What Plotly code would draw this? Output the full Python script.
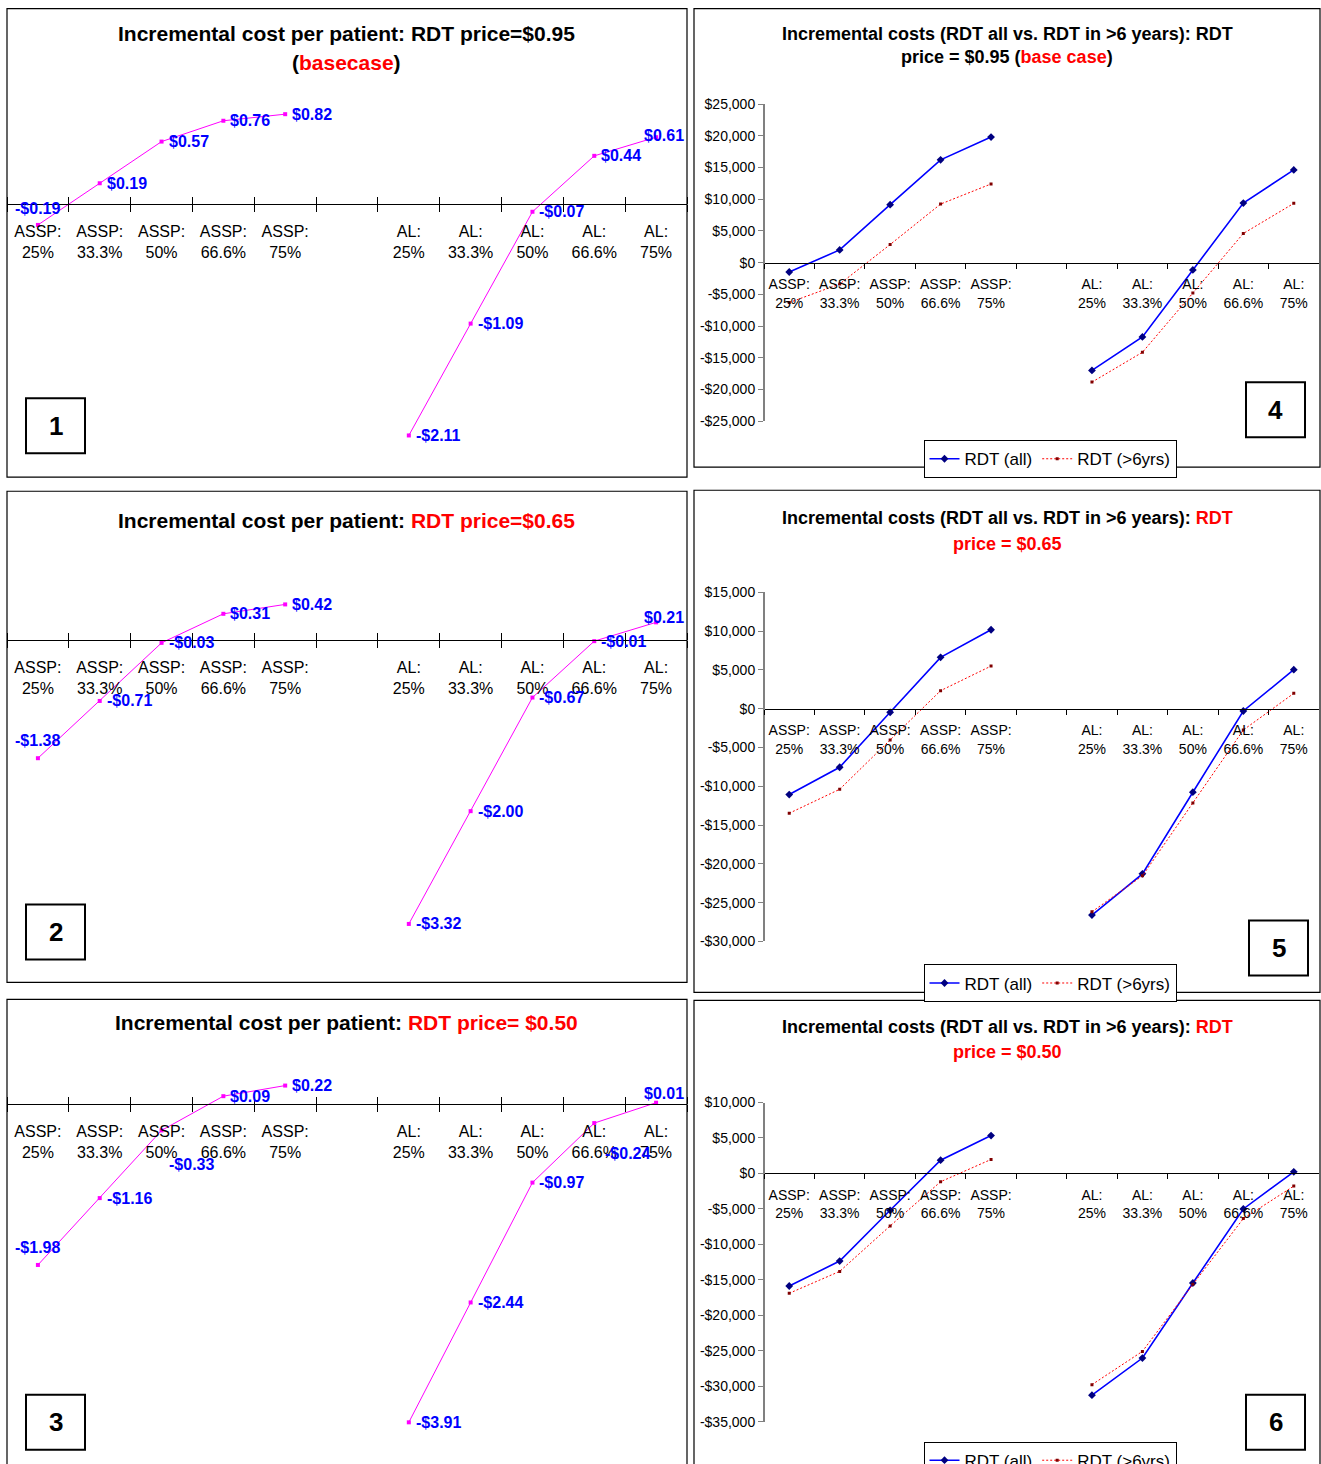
import plotly.graph_objects as go

W, H = 1321, 1480          # page is drawn slightly taller; mapping below keeps the picture at 1321x1464
Y_OFF, Y_SCALE = 8.0, 0.984

# ---------------- data ----------------
categories = ["ASSP:<br>25%", "ASSP:<br>33.3%", "ASSP:<br>50%", "ASSP:<br>66.6%", "ASSP:<br>75%", " ",
              "AL:<br>25%", "AL:<br>33.3%", "AL:<br>50%", "AL:<br>66.6%", "AL:<br>75%"]

# incremental cost per patient ($), RDT price 0.95 / 0.65 / 0.50
pp_assp_095 = [-0.19, 0.19, 0.57, 0.76, 0.82]
pp_al_095 = [-2.11, -1.09, -0.07, 0.44, 0.61]
pp_assp_065 = [-1.38, -0.71, -0.03, 0.31, 0.42]
pp_al_065 = [-3.32, -2.00, -0.67, -0.01, 0.21]
pp_assp_050 = [-1.98, -1.16, -0.33, 0.09, 0.22]
pp_al_050 = [-3.91, -2.44, -0.97, -0.24, 0.01]

# incremental costs, RDT (all) and RDT (>6yrs)
all_assp_095 = [-1480, 2000, 9130, 16200, 19790]
all_al_095 = [-17000, -11720, -1160, 9390, 14620]
gt6_assp_095 = [-6300, -3380, 2850, 9230, 12400]
gt6_al_095 = [-18840, -14140, -4800, 4590, 9340]

all_assp_065 = [-11070, -7550, -470, 6610, 10170]
all_al_065 = [-26600, -21290, -10770, -300, 5020]
gt6_assp_065 = [-13480, -10390, -4030, 2320, 5490]
gt6_al_065 = [-26180, -21550, -12150, -2750, 1970]

all_assp_050 = [-15870, -12360, -5200, 1870, 5340]
all_al_050 = [-31270, -26030, -15450, -5010, 230]
gt6_assp_050 = [-16900, -13810, -7400, -1170, 1970]
gt6_al_050 = [-29780, -25090, -15640, -6370, -1780]

right_ticks_095 = list(range(-25000, 25001, 5000))
right_ticks_065 = list(range(-30000, 15001, 5000))
right_ticks_050 = list(range(-35000, 10001, 5000))

# ---------------- helpers ----------------
FONT = "Liberation Sans Narrow, Arial Narrow, Liberation Sans, Arial, sans-serif"


def px(x):
    return x / W


def fy(y):
    """target picture row -> figure pixel row"""
    return (y - Y_OFF) / Y_SCALE


def py(y):
    return 1 - fy(y) / H


def money(v):
    return f"-${abs(v):.2f}" if v < 0 else f"${v:.2f}"


def money_tick(v):
    return f"-${abs(v):,}" if v < 0 else f"${v:,}"


fig = go.Figure()
layout = {}
shapes = []
annotations = []

# label placement: (xanchor, xshift, yshift); default is right of the marker
D = ("left", 6, 0)
left_specs = [
    # axis idx, assp, al, label placements, top, bottom, zero y, px per unit
    (1, pp_assp_095, pp_al_095,
     [("center", 0, 16), D, D, D, D, None, D, D, D, D, ("center", 8, 2)],
     88, 470, 204, 109.6),
    (2, pp_assp_065, pp_al_065,
     [("center", 0, 18), D, D, D, D, None, D, D, D, D, ("center", 8, 5)],
     570, 975, 640, 85.4),
    (3, pp_assp_050, pp_al_050,
     [("center", 0, 17), D, ("center", 30, -34), D, D, None,
      D, D, D, ("center", 33, -30), ("center", 8, 9)],
     1055, 1460, 1103, 81.5),
]

for k, (i, assp, al, places, top, bot, zero, scale) in enumerate(left_specs):
    vals = assp + [None] + al
    fig.add_trace(go.Scatter(
        x=categories, y=vals, mode="lines+markers",
        line=dict(color="#FF00FF", width=1), marker=dict(symbol="square", size=4, color="#FF00FF"),
        connectgaps=False, cliponaxis=False, showlegend=False, hoverinfo="skip",
        xaxis=f"x{i}", yaxis=f"y{i}"))
    for c, v, pl in zip(categories, vals, places):
        if v is None:
            continue
        xa, xs, ys = pl
        annotations.append(dict(
            text=f"<b>{money(v)}</b>", x=c, y=v, xref=f"x{i}", yref=f"y{i}", showarrow=False,
            xanchor=xa, yanchor="middle", xshift=xs, yshift=ys, borderpad=0,
            font=dict(family=FONT, size=16, color="#0000FF")))
    rng = [(zero - bot) / scale, (zero - top) / scale]
    xdom = [px(7), px(687)]
    pos = py(zero)
    layout[f"xaxis{i}"] = dict(
        domain=xdom, anchor="free", position=pos, type="category",
        categoryorder="array", categoryarray=categories, range=[-0.5, 10.5],
        showline=True, linecolor="black", linewidth=1, ticks="outside", ticklen=7,
        tickcolor="black", tickson="boundaries", showgrid=False, zeroline=False,
        tickfont=dict(family=FONT, size=16, color="black"), ticklabelstandoff=13, fixedrange=True)
    layout[f"yaxis{i}"] = dict(
        domain=[py(bot), py(top)], range=rng, anchor=f"x{i}", visible=False, fixedrange=True)
    # upward half of the crossing ticks
    j = 7 + k
    fig.add_trace(go.Scatter(x=categories, y=[None] * len(categories), mode="lines",
                             showlegend=False, hoverinfo="skip", xaxis=f"x{j}", yaxis=f"y{i}"))
    layout[f"xaxis{j}"] = dict(
        domain=xdom, anchor="free", position=pos, overlaying=f"x{i}", side="top",
        type="category", categoryorder="array", categoryarray=categories, range=[-0.5, 10.5],
        showline=False, ticks="outside", ticklen=7, tickcolor="black", tickson="boundaries",
        showticklabels=False, showgrid=False, zeroline=False, fixedrange=True)

# ---------------- right panels ----------------
right_specs = [
    (4, all_assp_095, all_al_095, gt6_assp_095, gt6_al_095, right_ticks_095, 104, 421, "legend", 440),
    (5, all_assp_065, all_al_065, gt6_assp_065, gt6_al_065, right_ticks_065, 592, 941, "legend2", 964),
    (6, all_assp_050, all_al_050, gt6_assp_050, gt6_al_050, right_ticks_050, 1102, 1421, "legend3", 1441),
]

for (i, a_assp, a_al, g_assp, g_al, ticks, top, bot, leg, legy) in right_specs:
    fig.add_trace(go.Scatter(
        x=categories, y=a_assp + [None] + a_al, mode="lines+markers", name="RDT (all)",
        line=dict(color="#0000FF", width=1.6), marker=dict(symbol="diamond", size=6, color="#000080"),
        connectgaps=False, legend=leg, hoverinfo="skip", xaxis=f"x{i}", yaxis=f"y{i}"))
    fig.add_trace(go.Scatter(
        x=categories, y=g_assp + [None] + g_al, mode="lines+markers", name="RDT (&gt;6yrs)",
        line=dict(color="#FF0000", width=1, dash="2px,2px"), marker=dict(symbol="square", size=3, color="#800000"),
        connectgaps=False, legend=leg, hoverinfo="skip", xaxis=f"x{i}", yaxis=f"y{i}"))
    ymin, ymax = ticks[0], ticks[-1]
    ydom = [py(bot), py(top)]
    zero_pos = ydom[0] + (0 - ymin) / (ymax - ymin) * (ydom[1] - ydom[0])
    layout[f"xaxis{i}"] = dict(
        domain=[px(764), px(1319)], anchor="free", position=zero_pos, type="category",
        categoryorder="array", categoryarray=categories, range=[-0.5, 10.5],
        showline=True, linecolor="black", linewidth=1, ticks="outside", ticklen=5,
        tickcolor="black", tickson="boundaries", showgrid=False, zeroline=False,
        tickfont=dict(family=FONT, size=14, color="black"), ticklabelstandoff=9, fixedrange=True)
    layout[f"yaxis{i}"] = dict(
        domain=ydom, range=[ymin, ymax], anchor="free", position=px(764),
        tickvals=ticks, ticktext=[money_tick(v) for v in ticks],
        showline=True, linecolor="#808080", linewidth=2, ticks="outside", ticklen=5,
        tickcolor="#808080", showgrid=False, zeroline=False,
        tickfont=dict(family=FONT, size=14, color="black"), fixedrange=True)
    layout[leg] = dict(
        x=px(1050), xanchor="center", y=py(legy), yanchor="top", orientation="h",
        bordercolor="black", borderwidth=1, bgcolor="white",
        font=dict(family=FONT, size=17, color="black"), itemwidth=30,
        tracegroupgap=0, itemclick=False, itemdoubleclick=False)

# ---------------- panel frames, number boxes ----------------
frames = [(7, 8.6, 687, 477), (694, 8.6, 1320, 467), (7, 491, 687, 982),
          (694, 490, 1320, 992), (7, 999, 687, 1475), (694, 1000, 1320, 1475)]
for (x0, y0, x1, y1) in frames:
    shapes.append(dict(type="rect", xref="paper", yref="paper", x0=px(x0), x1=px(x1),
                       y0=py(y1), y1=py(y0), line=dict(color="black", width=1.2), layer="below"))

boxes = [("1", 26, 398), ("4", 1246, 382), ("2", 26, 904), ("5", 1249, 920), ("3", 26, 1394), ("6", 1246, 1394)]
for (lab, x0, y0) in boxes:
    shapes.append(dict(type="rect", xref="paper", yref="paper", x0=px(x0), x1=px(x0 + 59),
                       y0=py(y0 + 55), y1=py(y0), line=dict(color="black", width=2)))
    annotations.append(dict(text=f"<b>{lab}</b>", x=px(x0 + 29.5), y=py(y0 + 27.5), xref="paper", yref="paper",
                            showarrow=False, xanchor="center", yanchor="middle",
                            font=dict(family=FONT, size=26, color="black")))

# ---------------- titles ----------------
RED = "<span style='color:#FF0000'>"
titles = [
    ("<b>Incremental cost per patient: RDT price=$0.95</b>", 347, 33, 21),
    (f"<b>({RED}basecase</span>)</b>", 347, 62, 21),
    ("<b>Incremental costs (RDT all vs. RDT in &gt;6 years): RDT</b>", 1007, 34, 18),
    (f"<b>price = $0.95 ({RED}base case</span>)</b>", 1007, 57, 18),
    (f"<b>Incremental cost per patient: {RED}RDT price=$0.65</span></b>", 347, 520, 21),
    (f"<b>Incremental costs (RDT all vs. RDT in &gt;6 years): {RED}RDT</span></b>", 1007, 518, 18),
    (f"<b>{RED}price = $0.65</span></b>", 1007, 544, 18),
    (f"<b>Incremental cost per patient: {RED}RDT price= $0.50</span></b>", 347, 1022, 21),
    (f"<b>Incremental costs (RDT all vs. RDT in &gt;6 years): {RED}RDT</span></b>", 1007, 1027, 18),
    (f"<b>{RED}price = $0.50</span></b>", 1007, 1052, 18),
]
for (t, x, y, s) in titles:
    annotations.append(dict(text=t, x=px(x), y=py(y), xref="paper", yref="paper", showarrow=False,
                            xanchor="center", yanchor="middle", font=dict(family=FONT, size=s, color="black")))

fig.update_layout(
    width=W, height=H, margin=dict(l=0, r=0, t=0, b=0), autosize=False,
    paper_bgcolor="white", plot_bgcolor="rgba(0,0,0,0)",
    font=dict(family=FONT, color="black"),
    shapes=shapes, annotations=annotations, **layout)

fig.write_html(
    "out.html",
    config={"displayModeBar": False, "staticPlot": True},
    post_script=(
        "document.documentElement.style.margin='0';"
        "document.body.style.margin='0';document.body.style.padding='0';"
        "var d=document.getElementById('{plot_id}');"
        "d.style.position='absolute';d.style.top='0px';d.style.left='0px';"
    ),
)
